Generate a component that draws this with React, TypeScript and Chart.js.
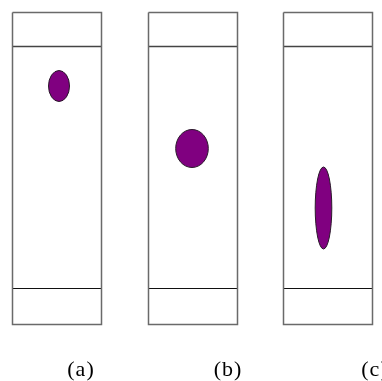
import React, { useEffect, useRef } from 'react';
import { Chart, registerables } from 'chart.js';
Chart.register(...registerables);

const panelLabels = ['(a)', '(b)', '(c)'];
const panelLeft = [12.5, 148.5, 283.5];
const panelRight = [101.5, 237.5, 372.5];
const panelTop = 12.5;
const panelBottom = 324.5;
const upperDivider = 46.5;
const lowerDivider = 288.5;
const dropX = [59, 192, 323.5];
const dropY = [86, 148.5, 208];
const dropRx = [10.5, 16.3, 8.3];
const dropRy = [15.5, 19, 41];
const labelX = [81, 228, 375];
const labelY = 376;

const W = 382;
const H = 381;

const drawPlugin = {
  id: 'drops',
  afterDatasetsDraw(chart: any) {
    const ctx = chart.ctx;
    const xs = chart.scales.x;
    const ys = chart.scales.y;
    ctx.save();
    for (let i = 0; i < dropX.length; i++) {
      const cx = xs.getPixelForValue(dropX[i]);
      const cy = ys.getPixelForValue(dropY[i]);
      const rx = Math.abs(xs.getPixelForValue(dropX[i] + dropRx[i]) - cx);
      const ry = Math.abs(ys.getPixelForValue(dropY[i] + dropRy[i]) - cy);
      ctx.beginPath();
      ctx.ellipse(cx, cy, rx, ry, 0, 0, Math.PI * 2);
      ctx.fillStyle = '#800080';
      ctx.fill();
      ctx.lineWidth = 1;
      ctx.strokeStyle = '#2a1a2a';
      ctx.stroke();
    }
    ctx.fillStyle = '#000';
    ctx.font = '22px "Liberation Serif", "DejaVu Serif", serif';
    ctx.textAlign = 'center';
    ctx.textBaseline = 'alphabetic';
    try { (ctx as any).letterSpacing = '1px'; } catch (e) {}
    for (let i = 0; i < panelLabels.length; i++) {
      ctx.fillText(panelLabels[i], xs.getPixelForValue(labelX[i]), ys.getPixelForValue(labelY));
    }
    ctx.restore();
  },
};

export default function App() {
  const ref = useRef<HTMLCanvasElement | null>(null);
  useEffect(() => {
    if (!ref.current) return;
    const datasets: any[] = [];
    for (let i = 0; i < panelLabels.length; i++) {
      const l = panelLeft[i];
      const r = panelRight[i];
      datasets.push({
        data: [
          { x: l, y: panelTop },
          { x: r, y: panelTop },
          { x: r, y: panelBottom },
          { x: l, y: panelBottom },
          { x: l, y: panelTop },
        ],
        borderColor: '#6a6a6a',
        borderWidth: 1.5,
      });
      datasets.push({
        data: [
          { x: l, y: upperDivider },
          { x: r, y: upperDivider },
        ],
        borderColor: '#444',
        borderWidth: 1.3,
      });
      datasets.push({
        data: [
          { x: l, y: lowerDivider },
          { x: r, y: lowerDivider },
        ],
        borderColor: '#111',
        borderWidth: 1.2,
      });
    }
    datasets.forEach((d) => {
      d.showLine = true;
      d.pointRadius = 0;
      d.fill = false;
      d.tension = 0;
      d.borderJoinStyle = 'miter';
    });
    const chart = new Chart(ref.current, {
      type: 'scatter',
      data: { datasets },
      options: {
        animation: false,
        responsive: false,
        devicePixelRatio: 1,
        layout: { padding: 0 },
        plugins: { legend: { display: false }, tooltip: { enabled: false } },
        scales: {
          x: { type: 'linear', min: 0, max: W, display: false },
          y: { type: 'linear', min: 0, max: H, reverse: true, display: false },
        },
      },
      plugins: [drawPlugin],
    });
    return () => chart.destroy();
  }, []);
  return (
    <div style={{ position: 'absolute', left: 0, top: 0, width: W, height: H, background: '#fff' }}>
      <canvas ref={ref} width={W} height={H} style={{ display: 'block' }} />
    </div>
  );
}
